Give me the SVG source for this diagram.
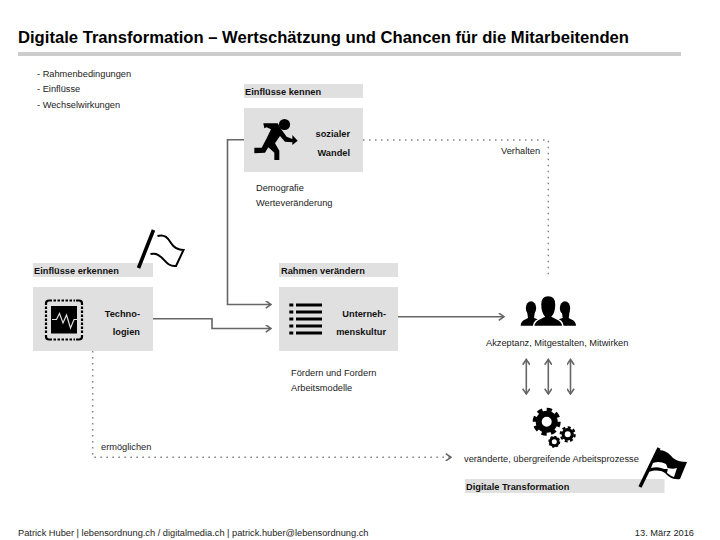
<svg xmlns="http://www.w3.org/2000/svg" width="720" height="540" viewBox="0 0 720 540">
<style>
text{font-family:"Liberation Sans",Arial,sans-serif;fill:#000}
.t{font-size:9.25px;fill:#222}
.b{font-size:9.25px;font-weight:bold;fill:#111}
.e{text-anchor:end}
.band{fill:#e0e0e0}
.c{fill:none;stroke:#666;stroke-width:1.6}
.d{fill:none;stroke:#808080;stroke-width:1.4;stroke-dasharray:1.5 4.5}
.a{marker-end:url(#ah)}
.aa{marker-end:url(#ah);marker-start:url(#ahs)}
.ic{fill:#000}
.g{fill:none;stroke:#000}
</style>
<defs>
<marker id="ah" viewBox="0 0 10 10" refX="8.5" refY="5" markerWidth="8" markerHeight="8" markerUnits="userSpaceOnUse" orient="auto"><path d="M2 0.5 L8.5 5 L2 9.5" fill="none" stroke="#666" stroke-width="2"/></marker>
<marker id="ahs" viewBox="0 0 10 10" refX="1.5" refY="5" markerWidth="8" markerHeight="8" markerUnits="userSpaceOnUse" orient="auto"><path d="M8 0.5 L1.5 5 L8 9.5" fill="none" stroke="#666" stroke-width="2"/></marker>
</defs>
<rect width="720" height="540" fill="#fff"/>
<g id="header">
<text x="18" y="42.500" font-size="16.7" font-weight="bold" textLength="611" lengthAdjust="spacingAndGlyphs">Digitale Transformation – Wertschätzung und Chancen für die Mitarbeitenden</text>
<rect x="18" y="52" width="663" height="4" fill="#cccccc"/>
</g>
<g id="bullets">
<text class="t" x="37" y="77">- Rahmenbedingungen</text>
<text class="t" x="37" y="92">- Einflüsse</text>
<text class="t" x="37" y="108">- Wechselwirkungen</text>
</g>
<g id="connectors">
<path class="c a" d="M244 139.700H227.500V304.500H271"/>
<path class="c a" d="M153 318.700H212V328.500H271"/>
<path class="c a" d="M398 316.700H504"/>
<path class="d" d="M363 140H548.300V277"/>
<path class="d a" d="M92.700 351V457.300H451"/>
<path class="c aa" d="M526.300 359.500V394"/>
<path class="c aa" d="M548.300 359.500V394"/>
<path class="c aa" d="M570.500 359.500V394"/>
</g>
<g id="node-kennen">
<rect class="band" x="244" y="84" width="119" height="14"/>
<text class="b" x="245" y="95">Einflüsse kennen</text>
<rect class="band" x="244" y="108" width="119" height="64"/>
<circle class="ic" cx="284.500" cy="124.500" r="5.600"/>
<path class="ic" transform="translate(245 110) scale(.3333)" d="M55 40 L98 40 L112 62 L125 80 L142 87 L142 75 L158 92 L142 105 L142 97 L120 95 L105 78 L90 100 L103 122 L103 150 L88 150 L88 128 L70 112 L60 128 L28 130 L28 113 L50 113 L65 85 L78 58 L65 52 L58 55Z"/>
<text class="b e" x="350" y="137">sozialer</text>
<text class="b e" x="350" y="156">Wandel</text>
<text class="t" x="256" y="191">Demografie</text>
<text class="t" x="256" y="206">Werteveränderung</text>
</g>
<g id="node-erkennen">
<rect class="band" x="33" y="263" width="120" height="14"/>
<text class="b" x="34" y="274">Einflüsse erkennen</text>
<rect class="band" x="33" y="287" width="120" height="64"/>
<path class="g" stroke-width="2.200" d="M46 305V303.500Q46 300.500 49 300.500H52M76 300.500H79Q82 300.500 82 303.500V305M82 335V336.500Q82 339.500 79 339.500H76M52 339.500H49Q46 339.500 46 336.500V335"/>
<path class="g" stroke-width="2.200" stroke-dasharray="2.500 1.500" d="M53.500 300.500H75M53.500 339.500H75M46 306.500V334M82 306.500V334"/>
<rect x="51" y="306" width="26" height="27.500" fill="#000"/>
<path d="M52 319.500H56.500L59.500 313.500L63 323L66.500 315L70.500 328L74 319.500H77" fill="none" stroke="#e0e0e0" stroke-width="1.200"/>
<text class="b e" x="140" y="317">Techno-</text>
<text class="b e" x="140" y="335">logien</text>
<path d="M138.500 268 L153.500 230" stroke="#000" stroke-width="3.600" fill="none"/>
<path class="g" stroke-width="2" d="M157.500 236 C165 234 168 238 171 243 C174 248 178 250 183.500 250 L176 266 C168 267 165 260 161 257 C157 254 155 253 150.500 254"/>
</g>
<g id="node-rahmen">
<rect class="band" x="279" y="263" width="119" height="14"/>
<text class="b" x="281" y="274">Rahmen verändern</text>
<rect class="band" x="279" y="287" width="119" height="64"/>
<path class="g" stroke-width="2.800" d="M296 305H322M296 312H322M296 319H322M296 326H322M296 333H322M289.300 305H293.300M289.300 312H293.300M289.300 319H293.300M289.300 326H293.300M289.300 333H293.300"/>
<text class="b e" x="386" y="317">Unterneh-</text>
<text class="b e" x="386" y="335">menskultur</text>
<text class="t" x="291" y="376">Fördern und Fordern</text>
<text class="t" x="291" y="391">Arbeitsmodelle</text>
</g>
<g id="node-akzeptanz">
<ellipse class="ic" cx="531" cy="308" rx="5.200" ry="6.700"/>
<path class="ic" d="M520.700 325.700 C521 321 524 320 528 318 L527 311 H535 L534 318 L540 320 V325.700Z"/>
<ellipse class="ic" cx="565" cy="308" rx="5.200" ry="6.700"/>
<path class="ic" d="M576 325.700 C575.700 321 572.700 320 568.700 318 L569.700 311 H561.700 L562.700 318 L556 320 V325.700Z"/>
<path class="ic" stroke="#fff" stroke-width="1.500" d="M533.500 326.500 C534 321 537 320 544 316.500 C541 313 540.500 309 540.500 304.500 C540.500 299 543.500 295.500 548.200 295.500 C553 295.500 556 299 556 304.500 C556 309 555.500 313 552.500 316.500 C559.500 320 562.500 321 563 326.500Z"/>
<text class="t" x="486" y="346">Akzeptanz, Mitgestalten, Mitwirken</text>
</g>
<g id="node-prozesse">
<circle class="g" cx="546.700" cy="421.700" r="8" stroke-width="6"/>
<circle class="g" cx="546.700" cy="421.700" r="12.200" stroke-width="3.600" pathLength="80" stroke-dasharray="5.500 4.500"/>
<circle class="g" cx="567.700" cy="434.300" r="4.600" stroke-width="3.200"/>
<circle class="g" cx="567.700" cy="434.300" r="7" stroke-width="2.200" pathLength="80" stroke-dasharray="5.500 4.500"/>
<circle class="g" cx="554.300" cy="441.700" r="3.900" stroke-width="2.800"/>
<circle class="g" cx="554.300" cy="441.700" r="5.400" stroke-width="1.200" pathLength="80" stroke-dasharray="5.500 4.500"/>
<text class="t" x="464" y="462">veränderte, übergreifende Arbeitsprozesse</text>
<rect class="band" x="465" y="479" width="199.500" height="14"/>
<text class="b" x="466" y="490">Digitale Transformation</text>
<path d="M640 487 L659 448" stroke="#000" stroke-width="3.400" fill="none"/>
<path class="ic" d="M658 450 C665 450 669 453 673 458 C677 461 682 462 687 462 L680 479 C673 480 669 477 665 473 C660 470 655 470 649 472Z"/>
<path d="M653 463 C658 461 662 462 666 464 L668 469 C665 469 663 469 661 468 C658 467 655 467 651 468Z M668 468 C671 469 674 469 677 468 L674 477 C671 476 670 475 667 473Z" fill="#fff"/>
</g>
<g id="labels">
<text class="t" x="501" y="154">Verhalten</text>
<text class="t" x="101" y="450">ermöglichen</text>
</g>
<g id="footer">
<text class="t" x="18" y="536">Patrick Huber | lebensordnung.ch / digitalmedia.ch | patrick.huber@lebensordnung.ch</text>
<text class="t e" x="694" y="536">13. März 2016</text>
</g>
</svg>
